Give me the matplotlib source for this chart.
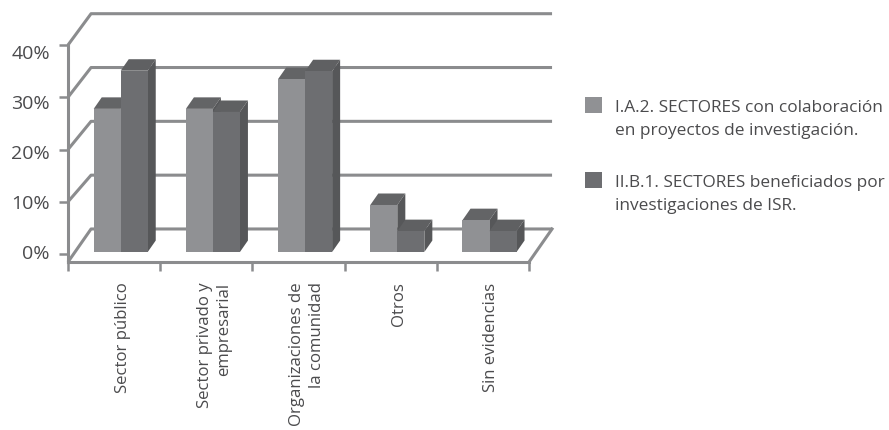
import matplotlib
matplotlib.use("Agg")
import matplotlib.pyplot as plt
from matplotlib.transforms import ScaledTranslation

categories = ["Sector público", "Sector privado y\nempresarial",
              "Organizaciones de\nla comunidad", "Otros", "Sin evidencias"]
serie_a = [27.4, 27.4, 33.1, 9.0, 6.1]
serie_b = [34.7, 26.8, 34.6, 4.0, 4.0]
serie_a_name = "I.A.2. SECTORES con colaboración\nen proyectos de investigación."
serie_b_name = "II.B.1. SECTORES beneficiados por\ninvestigaciones de ISR."
y_ticks = [0, 10, 20, 30, 40]

W, H = 889, 431
LINE = "#8b8c8e"
TEXT = "#4b4b4d"
A_FRONT, A_TOP = "#909194", "#636466"
B_FRONT, B_TOP, B_SIDE = "#6d6e71", "#5f6062", "#565759"

plt.rcParams["font.family"] = ["Open Sans", "DejaVu Sans"]
fig = plt.figure(figsize=(W / 100, H / 100), dpi=100, facecolor="white")
ax = fig.add_axes([68 / W, 1 - 263 / H, (529 - 68) / W, (263 - 46) / H])
ax.set_xlim(-0.5, 4.5)
ax.set_ylim(-1.53, 40)
ax.patch.set_alpha(0)

# wall geometry (chart-space offsets of the pseudo 3D box)
wall_dx = 0.25
wall_dy, wall_k = 4.79, 1.03
bar_w, bar_shift, bar_base = 0.293, 0.0716, 0.38
depth_x, depth_y = 0.087, 2.2

lw = 2.2
for v in y_ticks:
    back = wall_dy + wall_k * v
    start = v if v > 0 else -1.53
    ax.plot([-0.5, -0.5 + wall_dx, 4.5 + wall_dx], [start, back, back],
            color=LINE, lw=lw, clip_on=False, zorder=1, solid_capstyle="butt")
ax.plot([4.5, 4.5 + wall_dx], [-1.53, wall_dy], color=LINE, lw=lw, clip_on=False, zorder=1)


def draw_series(values, offset, front, top, side, z):
    xs = [i + bar_shift + offset for i in range(len(values))]
    bars = ax.bar(xs, values, width=bar_w, bottom=bar_base, align="center",
                  color=front, linewidth=0, zorder=z + 0.2)
    for x, v in zip(xs, values):
        l, r = x - bar_w / 2, x + bar_w / 2
        t = bar_base + v
        ax.fill([l, r, r + depth_x, l + depth_x], [t, t, t + depth_y, t + depth_y],
                color=top, lw=0, zorder=z, clip_on=False)
        ax.fill([r, r + depth_x, r + depth_x, r],
                [bar_base, bar_base + depth_y, t + depth_y, t],
                color=side, lw=0, zorder=z, clip_on=False)
    return bars


bars_a = draw_series(serie_a, -bar_w / 2, A_FRONT, A_TOP, B_SIDE, 2)
bars_b = draw_series(serie_b, bar_w / 2, B_FRONT, B_TOP, B_SIDE, 3)

for s in ("top", "right"):
    ax.spines[s].set_visible(False)
for s in ("left", "bottom"):
    ax.spines[s].set_color(LINE)
    ax.spines[s].set_linewidth(lw)
    ax.spines[s].set_zorder(4)

ax.set_yticks(y_ticks)
ax.set_yticklabels([f"{v}%" for v in y_ticks], fontsize=14, color=TEXT)
ax.tick_params(axis="y", length=6.5, width=1.8, color=LINE, pad=6.5)
for v, lab in zip(y_ticks, ax.get_yticklabels()):
    lab.set_transform(lab.get_transform() + ScaledTranslation(0, (3 - 0.22 * v) / 100, fig.dpi_scale_trans))

ax.set_xticks([i + bar_shift + 0.02 for i in range(len(categories))])
ax.set_xticklabels(categories, rotation=90, fontsize=12.1, color=TEXT, ha="center",
                   va="top", multialignment="right", linespacing=1.3)
ax.tick_params(axis="x", which="major", length=0, pad=14)
ax.set_xticks([i - 0.5 for i in range(len(categories) + 1)], minor=True)
ax.tick_params(axis="x", which="minor", length=6.5, width=1.8, color=LINE)

leg = fig.legend([bars_a[0], bars_b[0]], [serie_a_name, serie_b_name],
                 loc="upper left", bbox_to_anchor=(585 / W, 1 - 100 / H), frameon=False,
                 fontsize=12.45, labelcolor=TEXT, handlelength=1.0, handleheight=1.0,
                 handletextpad=0.72, labelspacing=2.1, borderpad=0, borderaxespad=0,
                 alignment="left")
for t in leg.get_texts():
    t.set_linespacing(1.55)
for h in leg.legend_handles:
    h.set_y(h.get_y() + 9.5)

fig.savefig("out.png", dpi=100, facecolor="white")
